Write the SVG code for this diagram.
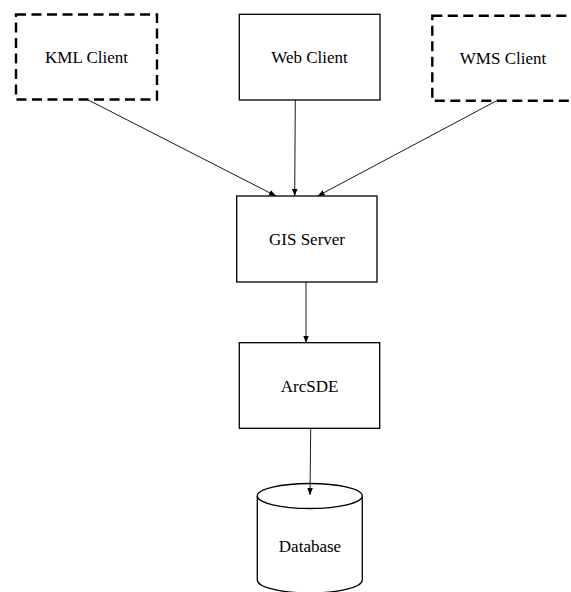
<svg xmlns="http://www.w3.org/2000/svg" width="571" height="592" viewBox="0 0 571 592">
<style>
  .box{fill:#fff;stroke:#000;stroke-width:1.3}
  .dash{fill:#fff;stroke:#000;stroke-width:2.4;stroke-dasharray:10,5.5}
  .lbl{font-family:"Liberation Serif","Times New Roman",serif;font-size:17px;fill:#000;text-anchor:middle}
  .conn{stroke:#000;stroke-width:0.9;fill:none;marker-end:url(#arr)}
</style>
<defs>
  <marker id="arr" markerUnits="userSpaceOnUse" markerWidth="8" markerHeight="8" viewBox="0 0 8 8" refX="7" refY="4" orient="auto">
    <path d="M0,1.2 L7,4 L0,6.8 Z" fill="#000"/>
  </marker>
</defs>
<rect width="571" height="592" fill="#fff"/>
<g id="kml-client">
  <rect class="dash" x="16" y="14.5" width="141" height="85"/>
  <text class="lbl" x="86.5" y="63">KML Client</text>
</g>
<g id="web-client">
  <rect class="box" x="239.3" y="14.3" width="140.7" height="85.7"/>
  <text class="lbl" x="309.5" y="62.5">Web Client</text>
</g>
<g id="wms-client">
  <rect class="dash" x="432.3" y="15.7" width="142" height="85"/>
  <text class="lbl" x="503" y="64">WMS Client</text>
</g>
<g id="gis-server">
  <rect class="box" x="236.7" y="196" width="140.3" height="86"/>
  <text class="lbl" x="307" y="245">GIS Server</text>
</g>
<g id="arcsde">
  <rect class="box" x="239.3" y="342.7" width="140.4" height="85.6"/>
  <text class="lbl" x="309.5" y="391.5">ArcSDE</text>
</g>
<g id="database">
  <path class="box" d="M257.3,496 L257.3,580 A52.5,13 0 0 0 362.3,580 L362.3,496"/>
  <ellipse class="box" cx="309.8" cy="496" rx="52.5" ry="12.5"/>
  <text class="lbl" x="310" y="551.5">Database</text>
</g>
<g id="connectors">
  <line class="conn" x1="87.3" y1="99.5" x2="276" y2="196"/>
  <line class="conn" x1="295.3" y1="100" x2="294.7" y2="196"/>
  <line class="conn" x1="496.7" y1="100.7" x2="317.7" y2="196"/>
  <line class="conn" x1="306" y1="282" x2="306" y2="342.7"/>
  <line class="conn" x1="310.7" y1="428.3" x2="310" y2="495"/>
</g>
</svg>
